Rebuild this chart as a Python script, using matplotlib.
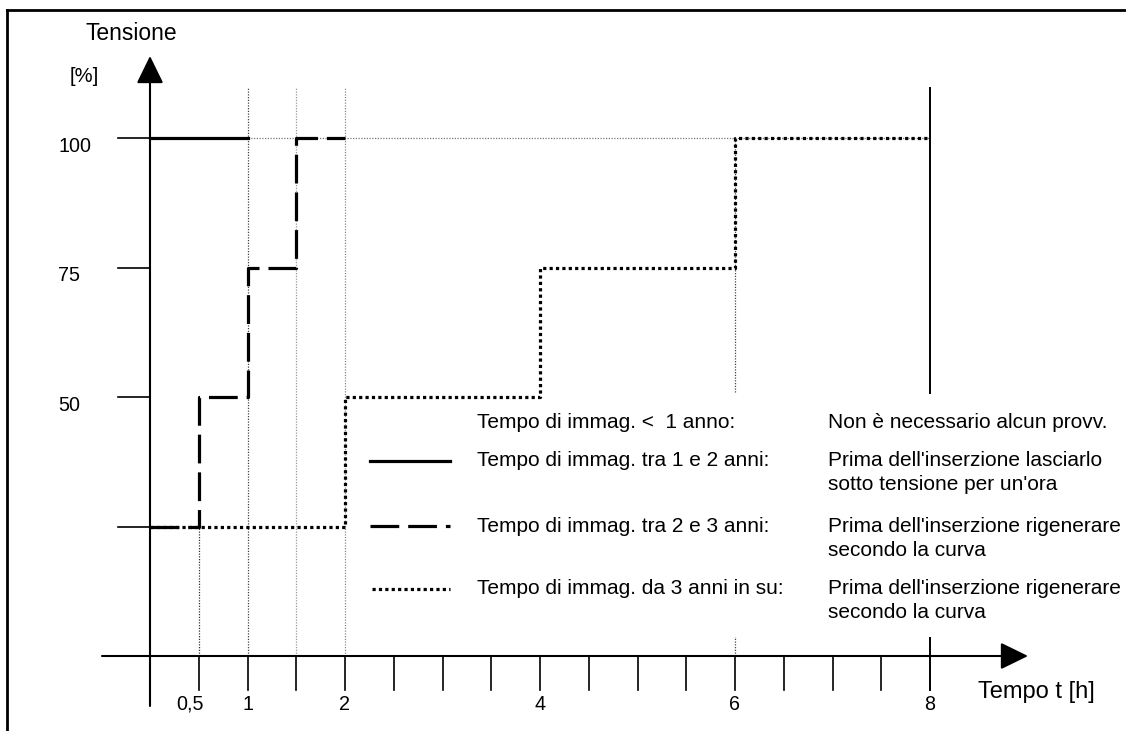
import matplotlib.pyplot as plt
from matplotlib.lines import Line2D
from matplotlib.patches import Rectangle

plt.rcParams['font.family'] = ['Liberation Sans', 'DejaVu Sans']

# dati delle curve (tempo in ore, tensione in %)
t_solid = [0, 1]
v_solid = [100, 100]
t_dashed = [0, 0.5, 1, 1.5, 2]
v_dashed = [25, 50, 75, 100, 100]
t_dotted = [0, 2, 4, 6, 8]
v_dotted = [25, 50, 75, 100, 100]

y_ticks = [25, 50, 75, 100]
y_labels = ["", "50", "75", "100"]
x_minor = [0.5, 1, 1.5, 2, 2.5, 3, 3.5, 4, 4.5, 5, 5.5, 6, 6.5, 7, 7.5]
x_lab_pos = [0.5, 1, 2, 4, 6, 8]
x_labels = ["0,5", "1", "2", "4", "6", "8"]

legend_left = ["Tempo di immag. <  1 anno:",
               "Tempo di immag. tra 1 e 2 anni:",
               "Tempo di immag. tra 2 e 3 anni:",
               "Tempo di immag. da 3 anni in su:"]
legend_right = ["Non è necessario alcun provv.",
                "Prima dell'inserzione lasciarlo\nsotto tensione per un'ora",
                "Prima dell'inserzione rigenerare\nsecondo la curva",
                "Prima dell'inserzione rigenerare\nsecondo la curva"]

W, H = 1126, 731
X0, SX = 150, 97.5   # pixel dello zero e px per ora
Y0, SY = 656, 5.18   # pixel dello zero e px per %


def hx(px):
    return (px - X0) / SX


def vy(py):
    return (Y0 - py) / SY


fig = plt.figure(figsize=(W / 100, H / 100), dpi=100)
ax = fig.add_axes([0, 0, 1, 1])
ax.set_xlim(hx(0), hx(W))
ax.set_ylim(vy(H), vy(0))
ax.axis('off')

# cornice
fig.add_artist(Line2D([7 / W, 1], [1 - 10 / H, 1 - 10 / H], color='black', lw=2))
fig.add_artist(Line2D([7 / W, 7 / W], [0, 1 - 10 / H], color='black', lw=2))

# assi con frecce
ax.annotate('', xy=(0, vy(56)), xytext=(0, vy(706)),
            arrowprops=dict(arrowstyle='-|>,head_length=0.45,head_width=0.22',
                            mutation_scale=38, lw=1.5, color='black',
                            shrinkA=0, shrinkB=0))
ax.annotate('', xy=(hx(1028), 0), xytext=(hx(102), 0),
            arrowprops=dict(arrowstyle='-|>,head_length=0.45,head_width=0.22',
                            mutation_scale=38, lw=1.5, color='black',
                            shrinkA=0, shrinkB=0))

# tacche asse y
for v, lab in zip(y_ticks, y_labels):
    ax.plot([hx(118), 0], [v, v], color='black', lw=1.2)
    ax.text(hx(58), v - 8 / SY, lab, ha='left', va='center', fontsize=14.2)

# tacche asse x
for t in x_minor:
    ax.plot([t, t], [0, vy(690)], color='black', lw=1.2)
ax.plot([8, 8], [vy(88), vy(690)], color='black', lw=1.4)
for t, lab in zip(x_lab_pos, x_labels):
    dx = -9 / SX if lab == "0,5" else 0
    ax.text(t + dx, vy(704), lab, ha='center', va='center', fontsize=14.2)

# linee guida puntinate
dot = (0, (1, 1.2))
ax.plot([0.5, 0.5], [0, 25], color='#333333', lw=0.9, ls=dot)
ax.plot([1, 1], [0, vy(88)], color='#444444', lw=0.9, ls=dot)
ax.plot([1.5, 1.5], [0, vy(88)], color='#999999', lw=0.9, ls=dot)
ax.plot([2, 2], [0, vy(88)], color='#888888', lw=0.9, ls=dot)
ax.plot([6, 6], [0, 100], color='#444444', lw=0.9, ls=dot)
ax.plot([1, 8], [100, 100], color='#777777', lw=0.9, ls=dot)

# riquadro bianco della legenda
ax.add_patch(Rectangle((hx(360), vy(637)), hx(1125) - hx(360), vy(394) - vy(637),
                       facecolor='white', edgecolor='none', zorder=3))

# curve
ax.plot(t_dotted, v_dotted, drawstyle='steps-post', color='black', lw=2.3,
        ls=(0, (1, 1)), dash_capstyle='butt', zorder=4)
ax.plot(t_dashed, v_dashed, drawstyle='steps-post', color='black', lw=2.3,
        ls=(0, (9, 2.8)), dash_capstyle='butt', zorder=5)
ax.plot(t_solid, v_solid, color='black', lw=2.3, zorder=6)

# legenda
rows_y = [422, 461, 526, 589]
ax.plot([hx(370), hx(450)], [vy(461), vy(461)], color='black', lw=2.3, zorder=6)
ax.plot([hx(370), hx(450)], [vy(526), vy(526)], color='black', lw=2.3,
        ls=(0, (9, 2.8)), dash_capstyle='butt', zorder=6)
ax.plot([hx(372), hx(450)], [vy(589), vy(589)], color='black', lw=2.3,
        ls=(0, (1, 1)), dash_capstyle='butt', zorder=6)
for py, left, right in zip(rows_y, legend_left, legend_right):
    ax.text(hx(477), vy(py), left, ha='left', va='center', fontsize=15, zorder=7)
    for k, line in enumerate(right.split('\n')):
        ax.text(hx(828), vy(py + 24 * k), line, ha='left', va='center',
                fontsize=15, zorder=7)

# titoli degli assi
ax.text(hx(85), vy(33), "Tensione", ha='left', va='center', fontsize=16.5)
ax.text(hx(70), vy(77), "[%]", ha='left', va='center', fontsize=14.5)
ax.text(hx(978), vy(692), "Tempo t [h]", ha='left', va='center', fontsize=17)

fig.savefig("out.png", dpi=100)
